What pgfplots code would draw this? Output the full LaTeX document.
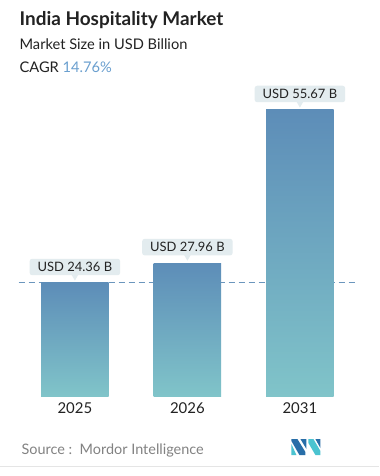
\documentclass[border=0pt]{standalone}
\usepackage{pgfplots}
\pgfplotsset{compat=1.18}
\usepackage{fontspec}
\setmainfont{Lato}
\usetikzlibrary{shapes.geometric}
\definecolor{bartop}{RGB}{93,141,184}
\definecolor{barbot}{RGB}{128,196,201}
\definecolor{callbg}{RGB}{227,236,239}
\definecolor{cagrblue}{RGB}{106,159,207}
\definecolor{dashc}{RGB}{107,150,189}
\definecolor{txt}{RGB}{34,34,34}
\definecolor{srcgrey}{RGB}{130,130,130}
\definecolor{logoblue}{RGB}{40,110,168}
\definecolor{logoteal}{RGB}{75,195,208}
\pgfplotstableread{
x y
0 24.36
1 27.96
2 55.67
}\datatable
\begin{document}
\begin{tikzpicture}[x=1bp,y=1bp]
\fill[white] (0,0) rectangle (379,-476);
\node[anchor=base west, inner sep=0, text=txt, font=\fontsize{19}{22}\selectfont\bfseries] at (19,-26) {India Hospitality Market};
\node[anchor=base west, inner sep=0, text=txt, font=\fontsize{14.7}{17}\selectfont] at (19,-50) {Market Size in USD Billion};
\node[anchor=base west, inner sep=0, text=txt, font=\fontsize{14.7}{17}\selectfont] at (19,-73) {CAGR \textcolor{cagrblue}{14.76\%}};
\begin{axis}[
  at={(18.25bp,-396bp)}, anchor=south west,
  width=337.5bp, height=310bp, scale only axis,
  xmin=-0.5, xmax=2.5, ymin=3.9, ymax=60,
  axis line style={draw=none},
  major tick length=0pt,
  ytick=\empty,
  xtick={0,1,2}, xticklabels={2025,2026,2031},
  xticklabel style={font=\fontsize{15}{18}\selectfont, text=txt, yshift=-3bp},
  clip=false,
  /pgf/number format/assume math mode=true,
  barstyle/.style={ybar, bar width=0.6, bar shift=0pt, draw=none, top color=bartop, bottom color=barbot, forget plot},
]
\addplot[sharp plot, dashed, dash pattern=on 6bp off 4bp, dashc, line width=0.9bp, forget plot] coordinates {(-0.5,24.36) (2.5,24.36)};
\addplot[barstyle] coordinates {(0,24.36)};
\addplot[barstyle] coordinates {(1,27.96)};
\addplot[barstyle] coordinates {(2,55.67)};
\addplot[draw=none, mark=none,
  nodes near coords={USD \pgfmathprintnumber[fixed,precision=2,fixed zerofill,assume math mode=true]{\pgfplotspointmeta} B},
  point meta=y,
  every node near coord/.style={shape=rectangle, fill=callbg, text=txt, rounded corners=2.5bp,
    font=\fontsize{13}{15}\selectfont, inner xsep=8bp, inner ysep=3.5bp,
    anchor=south, yshift=7.5bp}
] table[x=x,y=y] {\datatable};
\addplot[draw=none, mark=none,
  nodes near coords={},
  every node near coord/.style={shape=regular polygon, regular polygon sides=3, shape border rotate=180,
    fill=callbg, draw=none, inner sep=0pt, minimum size=9bp, anchor=corner 1, yshift=2bp}
] table[x=x,y=y] {\datatable};
\end{axis}
\node[anchor=base west, inner sep=0, text=srcgrey, font=\fontsize{14.5}{17}\selectfont] at (21,-454) {Source :\ \ Mordor Intelligence};
\fill[logoteal] (291,-444) -- (296,-455) -- (291,-455) -- cycle;
\fill[logoblue] (291,-439) -- (297,-439) -- (305,-452) -- (305,-455) -- (299,-455) -- (291,-441) -- cycle;
\fill[logoblue] (300,-439) -- (306,-439) -- (306,-449) -- cycle;
\fill[logoteal] (308,-439) -- (313,-439) -- (320,-451) -- (320,-455) -- (315,-455) -- (308,-443) -- cycle;
\fill[logoblue] (315,-439) -- (320,-439) -- (320,-448) -- cycle;
\draw[gray!20, line width=0.8bp] (0,-466) -- (379,-466);
\end{tikzpicture}
\end{document}
